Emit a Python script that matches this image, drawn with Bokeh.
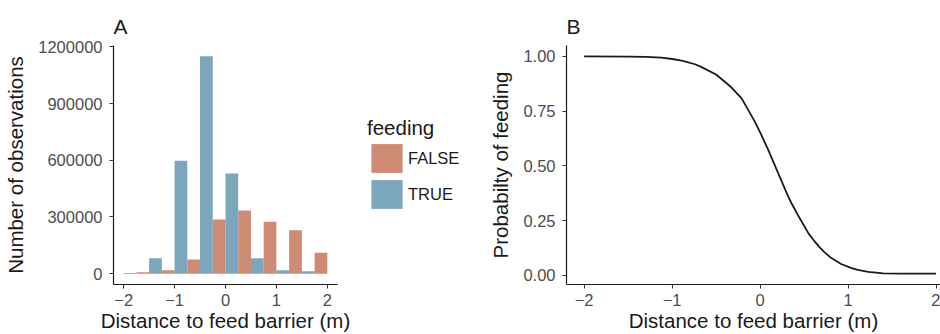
from bokeh.plotting import figure
from bokeh.layouts import row
from bokeh.models import Range1d, FixedTicker, Title, Legend, LegendItem
from bokeh.embed import file_html
from bokeh.resources import INLINE

# ---------------- data ----------------
bin_centers = [-2.0, -1.5, -1.0, -0.5, 0.0, 0.5, 1.0, 1.5, 2.0]
false_counts = [0, 7000, 17500, 75000, 286000, 334000, 275000, 230000, 111000]
true_counts = [3000, 81000, 597000, 1150000, 530000, 81000, 17500, 12000, 0]
group_labels = ["FALSE", "TRUE"]

x_ticks = [-2, -1, 0, 1, 2]
x_tick_labels = ["\u22122", "\u22121", "0", "1", "2"]
count_ticks = [0, 300000, 600000, 900000, 1200000]
count_tick_labels = ["0", "300000", "600000", "900000", "1200000"]
prob_ticks = [0.0, 0.25, 0.5, 0.75, 1.0]
prob_tick_labels = ["0.00", "0.25", "0.50", "0.75", "1.00"]

dist = [-2.0, -1.5, -1.3, -1.12, -1.0, -0.89, -0.74, -0.67, -0.5, -0.33, -0.21,
        -0.06, 0.01, 0.09, 0.17, 0.21, 0.32, 0.36, 0.43, 0.47, 0.55, 0.62, 0.68,
        0.73, 0.81, 0.92, 1.04, 1.11, 1.23, 1.4, 1.6, 2.0]
prob = [1.0, 0.999, 0.998, 0.994, 0.988, 0.981, 0.964, 0.952, 0.917, 0.86, 0.808,
        0.702, 0.645, 0.575, 0.5, 0.462, 0.36, 0.327, 0.275, 0.247, 0.192, 0.155, 0.127,
        0.106, 0.079, 0.052, 0.033, 0.025, 0.016, 0.009, 0.008, 0.008]

# ---------------- style ----------------
FONT = "Liberation Sans"
C_FALSE = "#CD8B74"
C_TRUE = "#7BA6BC"
TICK_COL = "#4D4D4D"
TXT_COL = "#1A1A1A"
BIN_W = 0.5
HALF = BIN_W / 2
H = 334
TOP, BOTTOM = 45, 49


def style(p, xt, xl, yt, yl):
    p.xgrid.visible = False
    p.ygrid.visible = False
    p.outline_line_color = None
    p.background_fill_color = "white"
    p.border_fill_color = "white"
    p.xaxis.ticker = FixedTicker(ticks=xt)
    p.xaxis.major_label_overrides = {t: l for t, l in zip(xt, xl)}
    p.yaxis.ticker = FixedTicker(ticks=yt)
    p.yaxis.major_label_overrides = {t: l for t, l in zip(yt, yl)}
    for ax in (p.xaxis[0], p.yaxis[0]):
        ax.axis_line_color = TXT_COL
        ax.axis_line_width = 1.2
        ax.major_tick_line_color = "#333333"
        ax.major_tick_line_width = 1.1
        ax.major_tick_out = 4
        ax.major_tick_in = 0
        ax.minor_tick_line_color = None
        ax.major_label_text_font = FONT
        ax.major_label_text_font_size = "16.5px"
        ax.major_label_text_color = TICK_COL
        ax.axis_label_text_font = FONT
        ax.axis_label_text_font_size = "20.5px"
        ax.axis_label_text_color = TXT_COL
        ax.axis_label_text_font_style = "normal"
    p.xaxis.major_label_standoff = 5
    p.xaxis.axis_label_standoff = 0
    p.yaxis.major_label_standoff = 7
    p.yaxis.axis_label_standoff = 8


def panel_title(p, text):
    p.add_layout(Title(text=text, align="left", text_font=FONT, text_font_size="21px",
                       text_color=TXT_COL, text_font_style="normal", standoff=16), "above")


# ---------------- panel A ----------------
all_counts = false_counts + true_counts
cmax = max(all_counts)
xmin_a = min(bin_centers) - 0.05 * (max(bin_centers) - min(bin_centers))
xmax_a = max(bin_centers) + 0.05 * (max(bin_centers) - min(bin_centers))

pA = figure(width=360, height=H, output_backend="svg", toolbar_location=None,
            x_range=Range1d(xmin_a, xmax_a), y_range=Range1d(-0.05 * cmax, 1.05 * cmax),
            min_border_left=113, min_border_right=23, min_border_top=TOP, min_border_bottom=BOTTOM)
pA.quad(left=[c - HALF for c in bin_centers], right=bin_centers, bottom=0, top=false_counts,
        fill_color=C_FALSE, line_color=None)
pA.quad(left=bin_centers, right=[c + HALF for c in bin_centers], bottom=0, top=true_counts,
        fill_color=C_TRUE, line_color=None)
style(pA, x_ticks, x_tick_labels, count_ticks, count_tick_labels)
pA.yaxis.axis_label = "Number of observations"
pA.xaxis.axis_label = "Distance to feed barrier (m)"
panel_title(pA, "A")

# ---------------- legend (own small figure; key glyphs kept out of view) ----------------
pL = figure(width=118, height=H, output_backend="svg", toolbar_location=None,
            x_range=Range1d(100, 101), y_range=Range1d(0, 1),
            x_axis_location=None, y_axis_location=None,
            min_border_left=0, min_border_right=0, min_border_top=TOP, min_border_bottom=BOTTOM)
pL.xgrid.visible = False
pL.ygrid.visible = False
pL.outline_line_color = None
kF = pL.quad(left=[c - HALF for c in bin_centers], right=bin_centers, bottom=0, top=false_counts,
             fill_color=C_FALSE, line_color=None)
kT = pL.quad(left=bin_centers, right=[c + HALF for c in bin_centers], bottom=0, top=true_counts,
             fill_color=C_TRUE, line_color=None)
legend = Legend(items=[LegendItem(label=group_labels[0], renderers=[kF], index=0),
                       LegendItem(label=group_labels[1], renderers=[kT], index=0)],
                title="feeding", location=(7, 72), orientation="vertical",
                glyph_width=39, glyph_height=36, label_height=36, spacing=0,
                padding=0, margin=0, label_standoff=2,
                label_text_font=FONT, label_text_font_size="16.5px", label_text_color=TXT_COL,
                title_text_font=FONT, title_text_font_size="20.5px", title_text_color=TXT_COL,
                title_text_font_style="normal", title_standoff=0,
                border_line_color=None, background_fill_alpha=0)
pL.add_layout(legend)

# ---------------- panel B ----------------
pmin, pmax = min(prob), max(prob)
ppad = 0.05 * (pmax - pmin)
xmin_b = min(dist) - 0.05 * (max(dist) - min(dist))
pB = figure(width=462, height=H, output_backend="svg", toolbar_location=None,
            x_range=Range1d(xmin_b, 2.05), y_range=Range1d(pmin - ppad, pmax + ppad),
            min_border_left=88, min_border_right=0, min_border_top=TOP, min_border_bottom=BOTTOM)
pB.line(dist, prob, line_color=TXT_COL, line_width=1.8)
style(pB, x_ticks, x_tick_labels, prob_ticks, prob_tick_labels)
pB.yaxis.axis_label = "Probabilty of feeding"
pB.xaxis.axis_label = "Distance to feed barrier (m)"
panel_title(pB, "B")

layout = row(pA, pL, pB)
open("out.html", "w").write(file_html(layout, INLINE))
